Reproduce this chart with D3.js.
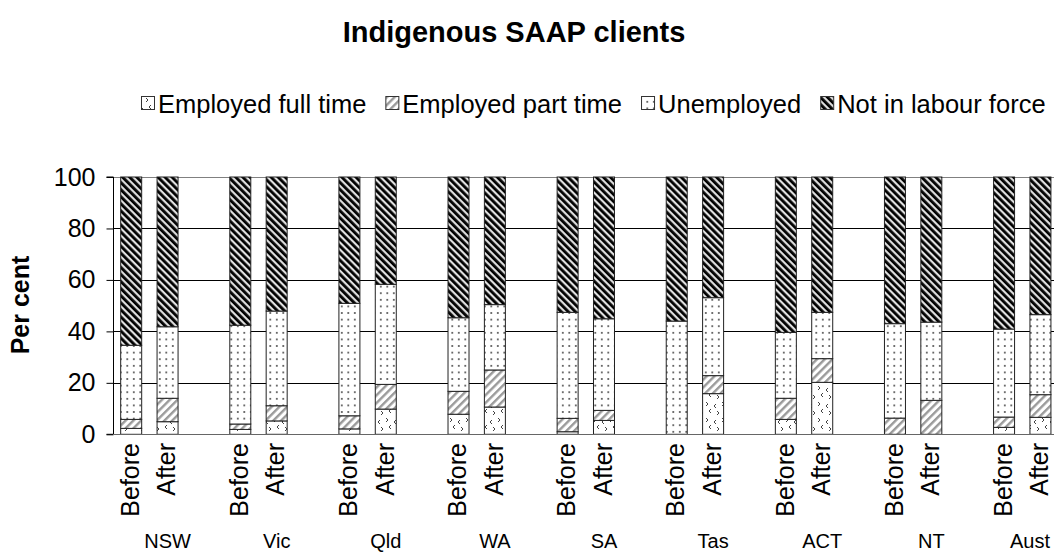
<!DOCTYPE html>
<html>
<head>
<meta charset="utf-8">
<script src="https://cdn.jsdelivr.net/npm/d3@7"></script>
<style>
  html, body { margin: 0; padding: 0; background: #fff; }
  svg { display: block; font-family: "Liberation Sans", Arial, sans-serif; }
</style>
</head>
<body>
<svg id="chart" width="1054" height="553"></svg>
<script>
// ---- data ----
const states = ["NSW", "Vic", "Qld", "WA", "SA", "Tas", "ACT", "NT", "Aust"];
const periods = ["Before", "After"];
const seriesNames = ["Employed full time", "Employed part time", "Unemployed", "Not in labour force"];
const fullTime   = [2.3, 4.9, 1.9, 5.2, 2.1, 9.8, 7.8, 10.6, 1.0, 5.4, 0, 15.8, 5.8, 20.2, 0, 0, 2.7, 6.6];
const partTime   = [3.5, 9.1, 2.1, 5.9, 5.1, 9.6, 8.9, 14.4, 5.2, 3.9, 0, 7.0, 8.2, 9.2, 6.3, 13.2, 4.0, 8.8];
const unemployed = [28.8, 27.8, 38.4, 36.8, 43.7, 38.9, 28.6, 25.4, 41.2, 35.6, 44.0, 30.3, 25.6, 18.0, 36.7, 30.4, 34.2, 31.1];
const notInLF    = [65.4, 58.2, 57.6, 52.1, 49.1, 41.7, 54.7, 49.6, 52.6, 55.1, 56.0, 46.9, 60.4, 52.6, 57.0, 56.4, 59.1, 53.5];
const yTicks = [0, 20, 40, 60, 80, 100];
const title = "Indigenous SAAP clients";
const yTitle = "Per cent";

// ---- build table ----
const seriesArrays = [fullTime, partTime, unemployed, notInLF];
const rows = [];
states.forEach((s, i) => {
  periods.forEach((p, j) => {
    const idx = i * 2 + j;
    const r = { key: s + "|" + p, state: s, period: p };
    seriesNames.forEach((n, k) => r[n] = seriesArrays[k][idx]);
    rows.push(r);
  });
});
// slot domain: Before, After, gap per state
const slots = [];
states.forEach(s => { slots.push(s + "|Before", s + "|After", s + "|gap"); });

const svg = d3.select("#chart");
const W = 1054, H = 553;
const plotLeft = 113, plotTop = 177, plotBottom = 434.3;
const slotStep = 36.37;
const plotRight = plotLeft + slotStep * slots.length;

const pad = 1 - 22 / slotStep;
const x = d3.scaleBand().domain(slots).range([plotLeft, plotRight]).paddingInner(pad).paddingOuter(pad / 2);
const y = d3.scaleLinear().domain([0, 100]).range([plotBottom, plotTop]);

// ---- patterns ----
const defs = svg.append("defs");
// Not in labour force: dense dark "\" stripes
const pN = defs.append("pattern").attr("id", "pNILF").attr("patternUnits", "userSpaceOnUse")
  .attr("width", 5).attr("height", 5).attr("patternTransform", "rotate(-45)");
pN.append("rect").attr("width", 5).attr("height", 5).attr("fill", "#e0e0e0");
pN.append("rect").attr("width", 2.8).attr("height", 5).attr("fill", "#000");
// Part time: light grey "/" stripes
const pP = defs.append("pattern").attr("id", "pPT").attr("patternUnits", "userSpaceOnUse")
  .attr("width", 5.5).attr("height", 5.5).attr("patternTransform", "rotate(45)");
pP.append("rect").attr("width", 5.5).attr("height", 5.5).attr("fill", "#ffffff");
pP.append("rect").attr("width", 2.4).attr("height", 5.5).attr("fill", "#9a9a9a");
// Unemployed: dotted
const pU = defs.append("pattern").attr("id", "pU").attr("patternUnits", "userSpaceOnUse")
  .attr("width", 6.5).attr("height", 6.6).attr("x", 1).attr("y", 0);
pU.append("rect").attr("width", 6.5).attr("height", 6.6).attr("fill", "#fff");
pU.append("rect").attr("x", 2).attr("y", 2).attr("width", 1.6).attr("height", 1.6).attr("fill", "#333");
// Full time: sparse chevrons
const pF = defs.append("pattern").attr("id", "pFT").attr("patternUnits", "userSpaceOnUse")
  .attr("width", 16).attr("height", 16).attr("x", 0).attr("y", 0);
pF.append("rect").attr("width", 16).attr("height", 16).attr("fill", "#fff");
const chev = "stroke:#444;stroke-width:1;fill:none";
pF.append("path").attr("d", "M2,2 L4,4 L2,6").attr("style", chev);
pF.append("path").attr("d", "M12,4 L10,6 L12,8").attr("style", chev);
pF.append("path").attr("d", "M7,9 L5,11 L7,13").attr("style", chev);
pF.append("path").attr("d", "M13,11 L15,13 L13,15").attr("style", chev);
const fills = ["url(#pFT)", "url(#pPT)", "url(#pU)", "url(#pNILF)"];

// ---- title ----
svg.append("text").attr("x", 514).attr("y", 42).attr("text-anchor", "middle")
  .attr("font-size", 29).attr("font-weight", "bold").text(title);

// ---- legend ----
const legend = svg.append("g").attr("font-size", 25.5);
let lx = 141;
const legY = 113;
seriesNames.forEach((n, k) => {
  legend.append("rect").attr("x", lx + 0.5).attr("y", legY - 16.5).attr("width", 13).attr("height", 13)
    .attr("fill", fills[k]).attr("stroke", "#333").attr("stroke-width", 1);
  const t = legend.append("text").attr("x", lx + 17).attr("y", legY).text(n);
  const w = t.node().getComputedTextLength();
  lx += 17 + w + 19;
});

// ---- gridlines ----
const grid = svg.append("g");
yTicks.forEach(v => {
  if (v === 0) return;
  grid.append("line").attr("x1", plotLeft).attr("x2", W)
    .attr("y1", Math.round(y(v)) + 0.5).attr("y2", Math.round(y(v)) + 0.5)
    .attr("stroke", v === 100 ? "#808080" : "#000").attr("stroke-width", 1);
});

// ---- bars ----
const stack = d3.stack().keys(seriesNames);
const stacked = stack(rows);
const bars = svg.append("g");
stacked.forEach((layer, k) => {
  bars.selectAll(null).data(layer.filter(d => d[1] - d[0] > 0)).join("rect")
    .attr("x", d => x(d.data.key) + 0.5)
    .attr("width", x.bandwidth() - 1)
    .attr("y", d => y(d[1]))
    .attr("height", d => y(d[0]) - y(d[1]))
    .attr("fill", fills[k])
    .attr("stroke", "#222").attr("stroke-width", 1);
});

// ---- axes ----
const yAxis = d3.axisLeft(y).tickValues(yTicks).tickSize(7).tickPadding(11).tickFormat(d3.format("d"));
const ya = svg.append("g").attr("transform", `translate(${plotLeft + 0.5},0)`).call(yAxis);
ya.select(".domain").attr("stroke", "#000").attr("d", `M-7,${y(100)}H0V${y(0)}H-7`);
ya.selectAll(".tick line").attr("stroke", "#000");
ya.selectAll(".tick text").attr("font-size", 25).attr("font-family", "Liberation Sans, Arial, sans-serif").attr("fill", "#000");

// baseline
svg.append("line").attr("x1", plotLeft).attr("x2", W).attr("y1", Math.round(y(0)) + 0.5).attr("y2", Math.round(y(0)) + 0.5)
  .attr("stroke", "#666").attr("stroke-width", 1);

// x labels: periods (rotated)
rows.forEach(r => {
  const cx = x(r.key) + x.bandwidth() / 2;
  svg.append("text")
    .attr("transform", `translate(${cx - 1},443) rotate(-90)`)
    .attr("text-anchor", "end").attr("dy", "0.35em")
    .attr("font-size", 25).text(r.period);
});
// state labels (centred on each group of three slots, kept inside the picture)
states.forEach(s => {
  const center = (x(s + "|Before") - x.step() * pad / 2 + x(s + "|gap") + x.bandwidth() + x.step() * pad / 2) / 2;
  const t = svg.append("text").attr("x", center).attr("y", 548).attr("text-anchor", "middle")
    .attr("font-size", 20).text(s);
  const w = t.node().getComputedTextLength();
  if (center + w / 2 > W - 4) t.attr("x", W - 4 - w / 2);
});

// y title
svg.append("text").attr("transform", `translate(20,305) rotate(-90)`)
  .attr("text-anchor", "middle").attr("dy", "0.35em")
  .attr("font-size", 25).attr("font-weight", "bold").text(yTitle);
</script>
</body>
</html>
